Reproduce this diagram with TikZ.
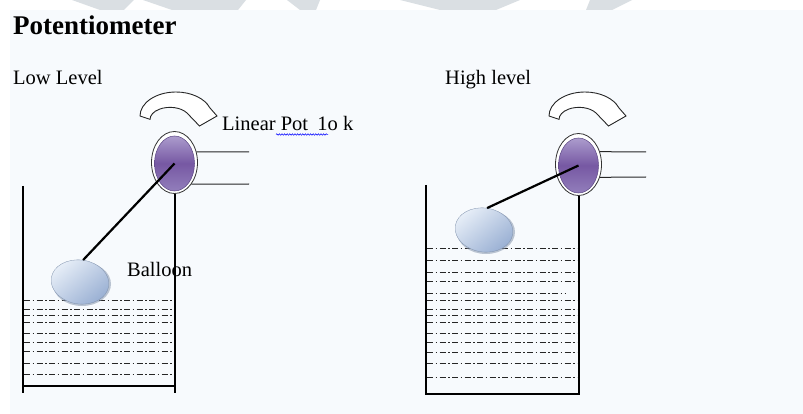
\documentclass[tikz,border=0pt]{standalone}
\usepackage{fontspec}
\setmainfont{Liberation Serif}
\usetikzlibrary{shapes.geometric,decorations.pathmorphing}

\definecolor{panel}{HTML}{F7FAFD}
\definecolor{wmark}{HTML}{DADFE3}
\definecolor{potlight}{HTML}{AC9CCD}
\definecolor{potmid}{HTML}{7658A3}
\definecolor{potlow}{HTML}{927EBB}
\definecolor{potedge}{HTML}{5B4684}
\definecolor{ballight}{HTML}{E8EFF8}
\definecolor{baldark}{HTML}{9BB1D4}
\definecolor{balshade}{HTML}{8796AE}
\definecolor{liquid}{HTML}{262626}

\tikzset{
  label/.style={inner sep=0pt, anchor=base west, font=\fontsize{20.5}{24}\selectfont},
  heading/.style={inner sep=0pt, anchor=base west, font=\fontsize{27}{32}\selectfont\bfseries},
  potring/.style={ellipse, inner sep=0pt, minimum width=46pt, minimum height=62pt,
                  fill=white, draw=black!80, line width=0.8pt},
  potknob/.style={ellipse, inner sep=0pt, minimum width=40pt, minimum height=55pt,
                  top color=potlight, bottom color=potlow, middle color=potmid,
                  draw=potedge, line width=0.5pt},
  balloon/.style={ellipse, inner sep=0pt, minimum width=58pt, minimum height=44pt,
                  top color=ballight, bottom color=baldark, shading angle=40,
                  draw=baldark!80!black, line width=0.3pt},
  wall/.style={line width=2pt, black},
  rod/.style={line width=2.2pt, black},
  lead/.style={line width=1pt, black!85},
  level/.style={line width=1pt, liquid, dash pattern=on 6pt off 2.5pt on 1.5pt off 2.5pt},
  turnarrow/.style={fill=white, draw=black!85, line width=0.9pt, line join=miter},
  spellmark/.style={blue, line width=0.5pt, decorate,
                    decoration={snake, amplitude=0.8pt, segment length=2.6pt}}
}

\begin{document}
\begin{tikzpicture}[x=1pt, y=-1pt]
\useasboundingbox (0,0) rectangle (803,414);

% page background and faint logo strokes along the top edge
\fill[white] (0,0) rectangle (803,414);
\fill[wmark] (72,0) -- (134,0) -- (124,10) -- (100,10) -- cycle;
\fill[wmark] (143,0) -- (246,0) -- (238,10) -- (172,10) -- cycle;
\fill[wmark] (287,0) -- (320,0) -- (316,10) -- (300,10) -- cycle;
\fill[wmark] (400,0) -- (520,0) -- (496,10) -- (440,10) -- cycle;
\fill[wmark] (590,0) -- (632,0) -- (612,10) -- (586,10) -- cycle;
\fill[panel] (10,10) rectangle (803,414);

% texts
\node[heading] (title) at (13,35) {Potentiometer};
\node[label] (lowtxt) at (13,85) {Low Level};
\node[label] (hightxt) at (445,85) {High level};
\node[label] (pottxt) at (222,131) {Linear Pot\hspace{0.2em} 1o k};
\node[label] (baltxt) at (127,276) {Balloon};
\draw[spellmark] (276,134.5) -- (328,134.5);

% ---------- low level tank ----------
\foreach \yy in {300,309,315,322,333,342,351,363,374}
  \draw[level] (24,\yy) -- (172,\yy);

\coordinate (ltl) at (22.5,186);
\coordinate (lbl) at (22.5,393);
\coordinate (lbr) at (174.5,393);
\coordinate (lfl) at (22.5,386);
\coordinate (lfr) at (174.5,386);

\node[potring] (potLring) at (174.5,162.5) {};
\node[potknob] (potL) at (174.5,163.5) {};
\coordinate (leadLa) at (249,152);
\coordinate (leadLb) at (249,184);
\draw[lead] (potLring.26) -- (leadLa);
\draw[lead] (potLring.-52) -- (leadLb);

\draw[wall] (ltl) -- (lbl);
\draw[wall] (potLring.south) -- (lbr);
\draw[wall] (lfl) -- (lfr);

\fill[balshade, opacity=0.55] (82,284) ellipse [x radius=29, y radius=22];
\node[balloon, rotate=-8] (balL) at (80,282) {};
\draw[rod] (balL.north) -- (potL.center);

% rotation arrow above the low level pot
\draw[turnarrow] (140,116) arc[start angle=180, end angle=340, x radius=36, y radius=24]
  -- (217,116) -- (199.5,126) -- (187,113)
  arc[start angle=328, end angle=180, x radius=20, y radius=12] -- cycle;

% ---------- high level tank ----------
\foreach \yy in {248,260,272,281,300,309,315,322,333,342,352,363,377}
  \draw[level] (427,\yy) -- (577,\yy);
\draw[level] (427,293) -- (565,293);

\coordinate (rtl) at (426,185);
\coordinate (rbl) at (426,394);
\coordinate (rbr) at (578.5,394);

\node[potring] (potRring) at (578.5,164.5) {};
\node[potknob] (potR) at (578.5,165.5) {};
\coordinate (leadRa) at (646,152);
\coordinate (leadRb) at (646,177);
\draw[lead] (potRring.31) -- (leadRa);
\draw[lead] (potRring.-31) -- (leadRb);

\draw[wall, line join=miter] (rtl) -- (rbl) -- (rbr) -- (potRring.south);

\fill[balshade, opacity=0.55] (486,232) ellipse [x radius=29, y radius=22];
\node[balloon, rotate=-8] (balR) at (484,230) {};
\draw[rod] (balR.north) -- (potR.center);

% rotation arrow above the high level pot
\begin{scope}[xshift=409pt]
\draw[turnarrow] (140,116) arc[start angle=180, end angle=340, x radius=36, y radius=24]
  -- (217,116) -- (199.5,126) -- (187,113)
  arc[start angle=328, end angle=180, x radius=20, y radius=12] -- cycle;
\end{scope}

\end{tikzpicture}
\end{document}
